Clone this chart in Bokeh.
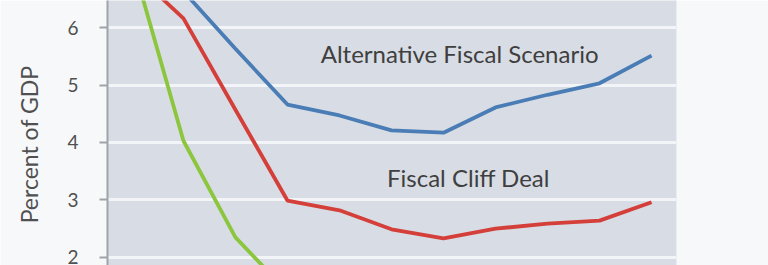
from bokeh.plotting import figure
from bokeh.models import Range1d, Label, FixedTicker
from bokeh.embed import file_html
from bokeh.resources import INLINE

years = [2012, 2013, 2014, 2015, 2016, 2017, 2018, 2019, 2020, 2021, 2022]
alternative = [7.0, 6.63, 5.63, 4.66, 4.47, 4.21, 4.17, 4.61, 4.83, 5.03, 5.51]
cliff_deal = [7.0, 6.16, 4.57, 2.99, 2.82, 2.49, 2.33, 2.50, 2.59, 2.64, 2.96]
fiscal_cliff = [7.2, 4.03, 2.35, 1.4, 1.2, 1.0, 0.9, 1.0, 1.0, 1.0, 1.1]
y_ticks = [2, 3, 4, 5, 6]

p = figure(width=768, height=265, output_backend="svg", toolbar_location=None,
           x_range=Range1d(2011.54, 2022.48), y_range=Range1d(1.86, 6.47),
           min_border_left=107, min_border_right=92, min_border_top=0, min_border_bottom=0)
p.background_fill_color = "#d8dce4"
p.border_fill_color = "#f7f8fa"
p.outline_line_color = None

p.xaxis.visible = False
p.xgrid.visible = False
p.ygrid.grid_line_color = "#f3f4f7"
p.ygrid.grid_line_width = 3
p.ygrid.ticker = FixedTicker(ticks=y_ticks)

ax = p.yaxis[0]
ax.ticker = FixedTicker(ticks=y_ticks)
ax.axis_line_color = "#a0a3a8"
ax.axis_line_width = 2
ax.major_tick_line_color = "#a0a3a8"
ax.major_tick_line_width = 2
ax.major_tick_out = 8
ax.major_tick_in = 0
ax.minor_tick_line_color = None
ax.major_label_standoff = 21
ax.major_label_text_font = "Lato"
ax.major_label_text_font_size = "19px"
ax.major_label_text_color = "#505050"
ax.axis_label = "Percent of GDP" + "\u00a0" * 4
ax.axis_label_text_font = "Lato"
ax.axis_label_text_font_style = "normal"
ax.axis_label_text_font_size = "23px"
ax.axis_label_text_color = "#505050"
ax.axis_label_standoff = 21

p.line(years, fiscal_cliff, line_color="#8cc63f", line_width=3.8)
p.line(years, cliff_deal, line_color="#d43f3a", line_width=3.8)
p.line(years, alternative, line_color="#4a7db5", line_width=3.8)

p.add_layout(Label(x=2018.31, y=5.55, text="Alternative Fiscal Scenario",
                   text_align="center", text_baseline="middle", text_font="Lato",
                   text_font_size="24px", text_color="#3f3f3f"))
p.add_layout(Label(x=2018.48, y=3.39, text="Fiscal Cliff Deal",
                   text_align="center", text_baseline="middle", text_font="Lato",
                   text_font_size="24px", text_color="#3f3f3f"))

open("out.html", "w").write(file_html(p, INLINE))
